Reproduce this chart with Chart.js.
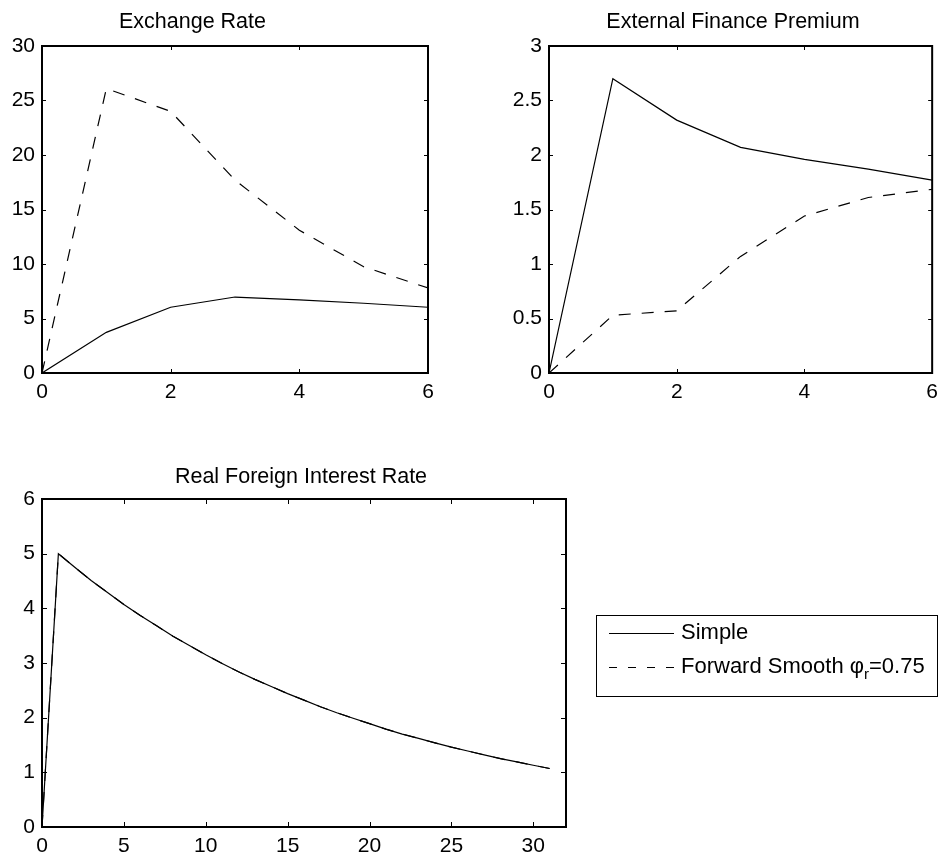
<!DOCTYPE html>
<html>
<head>
<meta charset="utf-8">
<script src="https://cdn.jsdelivr.net/npm/chart.js@4.4.1/dist/chart.umd.min.js"></script>
<style>
html,body{margin:0;padding:0;background:#fff;}
body{width:945px;height:859px;position:relative;overflow:hidden;}
canvas{position:absolute;}
</style>
</head>
<body>
<canvas id="c1" width="472" height="420" style="left:0;top:0"></canvas>
<canvas id="c2" width="473" height="420" style="left:472px;top:0"></canvas>
<canvas id="c3" width="945" height="439" style="left:0;top:420px"></canvas>
<script>
// ---- data ----
const erPeriods = [0, 1, 2, 3, 4, 5, 6];
const erSimple  = [0, 3.73, 6.03, 6.97, 6.70, 6.40, 6.03];
const erForward = [0, 26.1, 24.0, 17.7, 13.1, 9.75, 7.8];

const efpPeriods = [0, 1, 2, 3, 4, 5, 6];
const efpSimple  = [0, 2.70, 2.32, 2.07, 1.96, 1.87, 1.77];
const efpForward = [0, 0.53, 0.57, 1.07, 1.44, 1.61, 1.685];

const rfrPeriods = [0,1,2,3,4,5,6,7,8,9,10,11,12,13,14,15,16,17,18,19,20,21,22,23,24,25,26,27,28,29,30,31];
const rfrSimple  = [0,5.00,4.75,4.51,4.29,4.07,3.87,3.68,3.49,3.32,3.15,2.99,2.84,2.70,2.57,2.44,2.32,2.20,2.09,1.99,1.89,1.79,1.70,1.62,1.54,1.46,1.39,1.32,1.25,1.19,1.13,1.07];
const rfrForward = [0,5.00,4.75,4.51,4.29,4.07,3.87,3.68,3.49,3.32,3.15,2.99,2.84,2.70,2.57,2.44,2.32,2.20,2.09,1.99,1.89,1.79,1.70,1.62,1.54,1.46,1.39,1.32,1.25,1.19,1.13,1.07];

const shortXTicks = [0, 2, 4, 6];
const erYTicks    = [0, 5, 10, 15, 20, 25, 30];
const efpYTicks   = [0, 0.5, 1, 1.5, 2, 2.5, 3];
const rfrXTicks   = [0, 5, 10, 15, 20, 25, 30];
const rfrYTicks   = [0, 1, 2, 3, 4, 5, 6];

const seriesLabels = ['Simple', 'Forward Smooth \u03C6_r=0.75'];
const titles = ['Exchange Rate', 'External Finance Premium', 'Real Foreign Interest Rate'];

// ---- styling ----
const FONT = '"Liberation Sans", Arial, Helvetica, sans-serif';
Chart.defaults.font.family = FONT;
Chart.defaults.font.size = 21;
Chart.defaults.color = '#000';

const frame = {
  id: 'frame',
  afterDatasetsDraw(chart, args, o) {
    const {ctx, chartArea: a, scales: {x, y}} = chart;
    ctx.save();
    ctx.strokeStyle = '#000';
    ctx.lineWidth = 1;
    ctx.beginPath();
    x.ticks.forEach(t => {
      const p = Math.round(x.getPixelForValue(t.value)) + 0.5;
      ctx.moveTo(p, a.bottom); ctx.lineTo(p, a.bottom - o.tick);
      ctx.moveTo(p, a.top); ctx.lineTo(p, a.top + o.tick);
    });
    y.ticks.forEach(t => {
      const p = Math.round(y.getPixelForValue(t.value)) + 0.5;
      ctx.moveTo(a.left, p); ctx.lineTo(a.left + o.tick, p);
      ctx.moveTo(a.right, p); ctx.lineTo(a.right - o.tick, p);
    });
    ctx.stroke();
    ctx.lineWidth = 2;
    ctx.strokeRect(a.left, a.top, a.right - a.left, a.bottom - a.top);
    ctx.fillStyle = '#000';
    ctx.font = '21.5px ' + FONT;
    ctx.textAlign = 'center';
    ctx.textBaseline = 'alphabetic';
    ctx.fillText(o.title, o.tx, o.ty);
    ctx.restore();
  }
};

const legendBox = {
  id: 'legendBox',
  afterDraw(chart, args, o) {
    const ctx = chart.ctx;
    ctx.save();
    ctx.fillStyle = '#fff';
    ctx.fillRect(o.x, o.y, o.w, o.h);
    ctx.strokeStyle = '#000';
    ctx.lineWidth = 1;
    ctx.strokeRect(o.x + 0.5, o.y + 0.5, o.w, o.h);
    chart.data.datasets.forEach((ds, i) => {
      const ly = o.y + o.rows[i];
      ctx.beginPath();
      ctx.setLineDash(i === 0 ? [] : [8, 11]);
      ctx.lineWidth = 1;
      ctx.moveTo(o.x + 13, ly + 0.5);
      ctx.lineTo(o.x + 78, ly + 0.5);
      ctx.stroke();
      ctx.setLineDash([]);
      ctx.fillStyle = '#000';
      ctx.textAlign = 'left';
      ctx.textBaseline = 'middle';
      let tx = o.x + 85;
      const parts = ds.label.split('_');
      ctx.font = '22px ' + FONT;
      ctx.fillText(parts[0], tx, ly);
      tx += ctx.measureText(parts[0]).width;
      if (parts.length > 1) {
        const sub = parts[1].charAt(0), rest = parts[1].slice(1);
        ctx.font = '15px ' + FONT;
        ctx.fillText(sub, tx, ly + 8);
        tx += ctx.measureText(sub).width;
        ctx.font = '22px ' + FONT;
        ctx.fillText(rest, tx, ly);
      }
    });
    ctx.restore();
  }
};

function makeChart(id, o) {
  const pts = (xs, ys) => xs.map((v, i) => ({x: v, y: ys[i]}));
  return new Chart(document.getElementById(id), {
    type: 'line',
    data: {
      datasets: [
        {label: seriesLabels[0], data: pts(o.x, o.s), borderColor: '#000', borderWidth: 1.2,
         pointRadius: 0, tension: 0, fill: false},
        {label: seriesLabels[1], data: pts(o.x, o.f), borderColor: '#000', borderWidth: 1.2,
         borderDash: [12, 11], pointRadius: 0, tension: 0, fill: false}
      ]
    },
    options: {
      responsive: false,
      animation: false,
      events: [],
      layout: {padding: o.pad},
      plugins: {
        legend: {display: false},
        tooltip: {enabled: false},
        frame: {title: o.title, tx: o.tx, ty: o.ty, tick: o.tick},
        legendBox: o.legend || {}
      },
      scales: {
        x: {
          type: 'linear', min: o.xmin, max: o.xmax,
          afterBuildTicks: s => { s.ticks = o.xt.map(v => ({value: v})); },
          afterFit: s => { s.height = o.xh; },
          grid: {display: false, drawTicks: false},
          border: {display: false},
          ticks: {padding: 7, maxRotation: 0, autoSkip: false, callback: v => String(v)}
        },
        y: {
          type: 'linear', min: o.ymin, max: o.ymax,
          afterBuildTicks: s => { s.ticks = o.yt.map(v => ({value: v})); },
          afterFit: s => { s.width = o.yw; },
          grid: {display: false, drawTicks: false},
          border: {display: false},
          ticks: {padding: 7, autoSkip: false, callback: v => String(v)}
        }
      }
    },
    plugins: o.legend ? [frame, legendBox] : [frame]
  });
}

makeChart('c1', {
  x: erPeriods, s: erSimple, f: erForward, xmin: 0, xmax: 6, ymin: 0, ymax: 30,
  xt: shortXTicks, yt: erYTicks, pad: {left: 0, right: 44, top: 46, bottom: 0},
  xh: 47, yw: 42, title: titles[0], tx: 192.5, ty: 28, tick: 4
});
makeChart('c2', {
  x: efpPeriods, s: efpSimple, f: efpForward, xmin: 0, xmax: 6, ymin: 0, ymax: 3,
  xt: shortXTicks, yt: efpYTicks, pad: {left: 0, right: 10, top: 46, bottom: 0},
  xh: 47, yw: 77, title: titles[1], tx: 261, ty: 28, tick: 4
});
makeChart('c3', {
  x: rfrPeriods, s: rfrSimple, f: rfrForward, xmin: 0, xmax: 32, ymin: 0, ymax: 6,
  xt: rfrXTicks, yt: rfrYTicks, pad: {left: 0, right: 379, top: 79, bottom: 0},
  xh: 32, yw: 42, title: titles[2], tx: 301, ty: 63, tick: 5,
  legend: {x: 596, y: 195, w: 341, h: 81, rows: [18, 52]}
});
</script>
</body>
</html>
